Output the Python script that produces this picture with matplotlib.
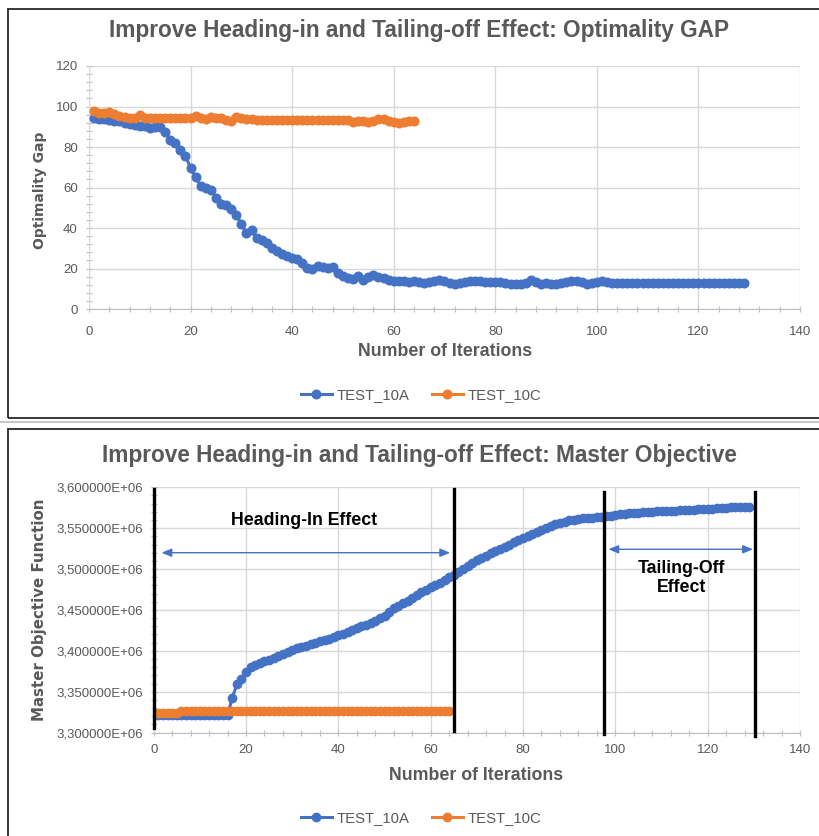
import numpy as np
import matplotlib
matplotlib.use('Agg')
import matplotlib.pyplot as plt
from matplotlib.ticker import MultipleLocator, FuncFormatter
from matplotlib.patches import Rectangle
from matplotlib.lines import Line2D

plt.rcParams['font.family'] = ['Liberation Sans', 'DejaVu Sans']

BLUE = '#4472C4'
ORANGE = '#ED7D31'
TXT = '#595959'
GRID = '#D9D9D9'

# optimality gap (%) per iteration
gap_10a = [94.4, 94.0, 93.8, 93.1, 93.0, 92.6, 91.8, 91.5, 91.0, 90.6,
           90.2, 89.6, 89.8, 89.9, 87.5, 83.6, 82.0, 78.3, 75.8, 69.5,
           65.0, 60.8, 59.6, 59.0, 55.0, 52.0, 51.3, 49.6, 46.5, 42.0,
           37.4, 38.8, 35.0, 34.0, 32.5, 30.2, 28.6, 27.4, 26.2, 25.3,
           24.5, 22.5, 20.3, 20.0, 21.3, 20.8, 20.2, 20.6, 17.8, 16.2,
           15.4, 14.8, 16.3, 14.2, 15.8, 17.0, 16.0, 15.5, 14.2, 13.7,
           13.6, 13.6, 13.2, 13.8, 13.4, 13.0, 13.5, 13.7, 14.2, 13.6,
           13.0, 12.4, 13.0, 13.4, 13.6, 13.8, 14.0, 13.5, 13.4, 13.2,
           13.2, 13.0, 12.5, 12.4, 12.5, 12.8, 14.2, 13.2, 12.5, 12.6,
           12.4, 12.5, 12.8, 13.5, 13.6, 13.6, 13.4, 12.4, 12.8, 13.5,
           13.6, 13.4] + [12.6] * 27
gap_10c = [97.7, 97.0, 96.6, 97.1, 96.5, 95.5, 94.8, 94.2, 94.5, 95.8,
           94.5, 94.2, 94.3, 94.2, 94.3, 94.3, 94.2, 94.3, 94.3, 94.5,
           95.4, 94.5, 93.6, 94.6, 94.4, 94.2, 93.4, 93.0, 94.8, 94.2,
           93.8, 93.6, 93.3, 93.2, 93.4, 93.3, 93.3, 93.2, 93.3, 93.4,
           93.3, 93.3, 93.2, 93.3, 93.3, 93.4, 93.3, 93.2, 93.3, 93.3,
           93.4, 92.4, 92.8, 93.0, 92.5, 92.6, 93.6, 93.8, 93.0, 92.4,
           91.8, 92.4, 92.6, 92.6]

# master objective per iteration, in thousands
obj_10a_k = [3321.5] * 16 + [
    3342, 3359, 3366, 3374, 3380.5, 3383, 3385, 3387.5, 3389, 3391,
    3393.5, 3396.5, 3398.5, 3401, 3403.5, 3405, 3406.5, 3408, 3410, 3411.5,
    3413, 3415, 3417, 3419, 3421, 3423, 3425.5, 3427.5, 3430, 3432,
    3434.5, 3437, 3440, 3443, 3447, 3452, 3455, 3458.5, 3461.5, 3465,
    3468.5, 3471.5, 3474.5, 3477.5, 3480.5, 3483.5, 3486.5, 3490, 3493, 3497,
    3500.5, 3504, 3507.5, 3510.5, 3513.5, 3516.5, 3519.5, 3522.5, 3525, 3527.5,
    3530, 3532.5, 3535, 3537.5, 3540.5, 3543, 3545.5, 3548, 3550.5, 3553,
    3555, 3556.5, 3558, 3559.5, 3560.5, 3561.5, 3562, 3562.5, 3563, 3563.5,
    3564, 3564.5, 3565.5, 3566.5, 3567, 3567.5, 3568, 3568.5, 3569, 3569.5,
    3570, 3570, 3570.5, 3571, 3571, 3571.5, 3571.5, 3572, 3572, 3572.5,
    3572.5, 3573, 3573.5, 3574, 3574, 3574.5, 3575, 3575, 3575.5, 3575.5,
    3575.5, 3575.5, 3575.5]
obj_10c_k = [3324.5] * 5 + [3326.5] * 59

# phase markers on the objective chart
phase_iter = [0, 65, 97.5, 130.3]
phase_top = [3.5976e6, 3.5976e6, 3.5946e6, 3.5946e6]
phase_bottom = [3.3055e6, 3.302e6, 3.298e6, 3.296e6]
heading_span = (1.7, 64.2, 3.520e6)
tailing_span = (98.5, 129.8, 3.5242e6)

it_a = np.arange(1, len(gap_10a) + 1)
it_c = np.arange(1, len(gap_10c) + 1)
obj_10a = np.array(obj_10a_k) * 1e3
obj_10c = np.array(obj_10c_k) * 1e3

W, H = 820, 836
fig = plt.figure(figsize=(W / 100, H / 100), dpi=100)


def px_box(l, t, r, b):
    return [l / W, 1 - b / H, (r - l) / W, (b - t) / H]


def fy(y):
    return 1 - y / H


# panel frames
fig.add_artist(Rectangle((8 / W, fy(418)), 830 / W, 409 / H, transform=fig.transFigure,
                         fill=False, ec='#262626', lw=1.3))
fig.add_artist(Line2D([0, 1], [fy(421.5), fy(421.5)], color='#C8C8C8', lw=1.5))
fig.add_artist(Rectangle((8 / W, fy(845)), 830 / W, 416 / H, transform=fig.transFigure,
                         fill=False, ec='#262626', lw=1.3))

ax1 = fig.add_axes(px_box(89, 66, 800, 309))
ax2 = fig.add_axes(px_box(153.7, 487.3, 800, 732.6))


def style(ax, ymin_step, xpad):
    for s in ['top', 'right']:
        ax.spines[s].set_visible(False)
    ax.spines['left'].set_color(GRID)
    ax.spines['bottom'].set_color('#BFBFBF')
    ax.grid(True, which='major', color=GRID, lw=1)
    ax.set_axisbelow(True)
    ax.xaxis.set_major_locator(MultipleLocator(20))
    ax.xaxis.set_minor_locator(MultipleLocator(4))
    ax.yaxis.set_minor_locator(MultipleLocator(ymin_step))
    ax.tick_params(which='both', colors='#BFBFBF', labelcolor=TXT, direction='inout',
                   length=4, width=0.8)
    ax.tick_params(axis='x', labelsize=9.5, pad=xpad)
    ax.tick_params(axis='y', labelsize=9.5, pad=6)
    ax.set_xlim(0, 140)


def add_legend(ax, y):
    ax.legend(loc='center', bbox_to_anchor=(421 / W, fy(y)), bbox_transform=fig.transFigure,
              ncol=2, frameon=False, fontsize=10.7, labelcolor=TXT, handlelength=2.1,
              handletextpad=0.3, columnspacing=1.5)


# --- optimality gap ---
style(ax1, 4, 10)
ax1.set_ylim(0, 120)
ax1.yaxis.set_major_locator(MultipleLocator(20))
ax1.plot(it_a, gap_10a, '-o', color=BLUE, lw=2.2, ms=6.2, label='TEST_10A', zorder=3)
ax1.plot(it_c, gap_10c, '-o', color=ORANGE, lw=2.2, ms=6.2, label='TEST_10C', zorder=3)
add_legend(ax1, 395)

fig.text(419 / W, fy(31), 'Improve Heading-in and Tailing-off Effect: Optimality GAP',
         ha='center', va='center', fontsize=16.3, weight='bold', color=TXT)
fig.text(445 / W, fy(352), 'Number of Iterations', ha='center', va='center',
         fontsize=12.8, weight='bold', color=TXT)
fig.text(40 / W, fy(190), 'Optimality Gap', ha='center', va='center', rotation=90,
         fontsize=10, weight='bold', color=TXT, family='DejaVu Sans')

# --- master objective ---
style(ax2, 10000, 6)
ax2.set_ylim(3.3e6, 3.6e6)
ax2.yaxis.set_major_locator(MultipleLocator(50000))
ax2.yaxis.set_major_formatter(FuncFormatter(
    lambda v, _: f'{v / 1e6:.6f}'.replace('.', ',') + 'E+06'))
ax2.plot(it_a, obj_10a, '-o', color=BLUE, lw=2.2, ms=6, label='TEST_10A', zorder=3)
ax2.plot(it_c, obj_10c, '-o', color=ORANGE, lw=2.2, ms=6, label='TEST_10C', zorder=3)
add_legend(ax2, 818)

for x, y0, y1 in zip(phase_iter, phase_bottom, phase_top):
    ax2.plot([x, x], [y0, y1], color='black', lw=2.4, clip_on=False, zorder=4)

for x0, x1, y in [heading_span, tailing_span]:
    ax2.annotate('', xy=(x1, y), xytext=(x0, y),
                 arrowprops=dict(arrowstyle='<|-|>,head_length=0.6,head_width=0.25',
                                 color=BLUE, lw=1, shrinkA=0, shrinkB=0), zorder=4)

ax2.text(32.5, 3.5592e6, 'Heading-In Effect', ha='center', va='center',
         fontsize=12.8, weight='bold', color='black')
ax2.text(114.4, 3.4888e6, 'Tailing-Off\nEffect', ha='center', va='center',
         fontsize=12.8, weight='bold', color='black', linespacing=1.15)

fig.text(419 / W, fy(455), 'Improve Heading-in and Tailing-off Effect: Master Objective',
         ha='center', va='center', fontsize=16.3, weight='bold', color=TXT)
fig.text(476 / W, fy(775), 'Number of Iterations', ha='center', va='center',
         fontsize=12.8, weight='bold', color=TXT)
fig.text(40 / W, fy(610), 'Master Objective Function', ha='center', va='center',
         rotation=90, fontsize=10.8, weight='bold', color=TXT, family='DejaVu Sans')

fig.savefig('out.png', dpi=100)
